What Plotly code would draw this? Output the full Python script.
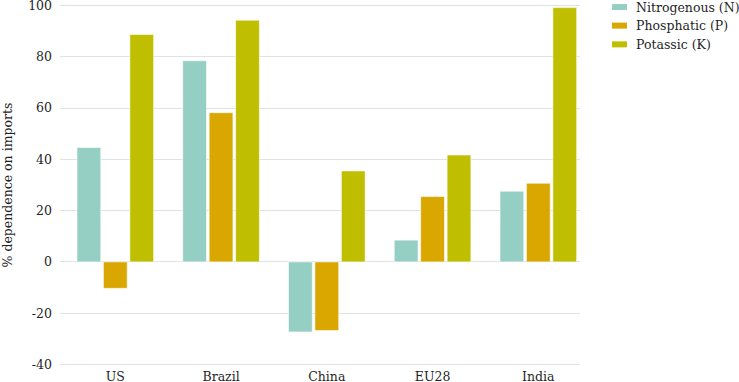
import plotly.graph_objects as go

categories = ["US", "Brazil", "China", "EU28", "India"]
series_names = ["Nitrogenous (N)", "Phosphatic (P)", "Potassic (K)"]
nitrogenous = [44.6, 78.5, -27.3, 8.5, 27.6]
phosphatic = [-10.3, 58.2, -26.8, 25.5, 30.7]
potassic = [88.7, 94.3, 35.5, 41.7, 99.2]
colors = ["#95cec3", "#daa600", "#bfbe00"]
y_ticks = [-40, -20, 0, 20, 40, 60, 80, 100]
y_tick_labels = ["-40", "-20", "0", "20", "40", "60", "80", "100"]

FONT = "DejaVu Serif"
TXT = "#1f1f1f"
GRID = "#dde4e4"

fig = go.Figure()
for name, vals, col in zip(series_names, [nitrogenous, phosphatic, potassic], colors):
    fig.add_trace(go.Bar(
        x=list(range(len(categories))), y=vals, name=name,
        marker=dict(color=col, line=dict(color="rgba(255,255,255,0.6)", width=1)),
        showlegend=False,
    ))

# plot box chosen so that 100 -> y=6 px and -40 -> y=364 px
px_per_unit = (364 - 6) / 140.0
y_lo, y_hi = -41, 101
plot_left, plot_right = 60, 580
plot_top = 6 - (y_hi - 100) * px_per_unit
plot_bottom = 364 + (-40 - y_lo) * px_per_unit
pw = plot_right - plot_left
ph = plot_bottom - plot_top

# custom legend (wide short swatches)
rows_y = [7.5, 26, 44.7]
shapes = []
annotations = []
for name, col, ry in zip(series_names, colors, rows_y):
    yc = (plot_bottom - ry) / ph
    shapes.append(dict(type="rect", xref="paper", yref="paper",
                       x0=(612 - plot_left) / pw, x1=(627 - plot_left) / pw,
                       y0=yc - 3 / ph, y1=yc + 3 / ph,
                       fillcolor=col, line=dict(width=0)))
    annotations.append(dict(xref="paper", yref="paper", x=(634 - plot_left) / pw, y=yc,
                            text=name, showarrow=False, xanchor="left", yanchor="middle",
                            font=dict(family=FONT, size=12.5, color=TXT)))

fig.update_layout(
    width=739, height=382,
    margin=dict(l=plot_left, r=739 - plot_right, t=plot_top, b=382 - plot_bottom),
    paper_bgcolor="white", plot_bgcolor="white",
    barmode="group", bargap=0.25, bargroupgap=0.1,
    font=dict(family=FONT, size=12.5, color=TXT),
    shapes=shapes, annotations=annotations,
    xaxis=dict(
        tickmode="array", tickvals=list(range(len(categories))), ticktext=categories,
        range=[-0.523, 4.394], showgrid=False, zeroline=False, showline=False,
        ticks="", automargin=False, tickfont=dict(family=FONT, size=12.5, color=TXT),
    ),
    yaxis=dict(
        range=[y_lo, y_hi], tickmode="array", tickvals=y_ticks, ticktext=y_tick_labels,
        showgrid=True, gridcolor=GRID, gridwidth=1,
        zeroline=True, zerolinecolor=GRID, zerolinewidth=1, showline=False, ticks="",
        ticklabelstandoff=7, automargin=False, ticklabeloverflow="allow",
        tickfont=dict(family=FONT, size=12.5, color=TXT),
        title=dict(text="% dependence on imports", standoff=14,
                   font=dict(family=FONT, size=12.5, color=TXT)),
    ),
)

fig.write_html("out.html", config={"displayModeBar": False},
               post_script="document.body.style.margin='0';document.body.style.padding='0';")
